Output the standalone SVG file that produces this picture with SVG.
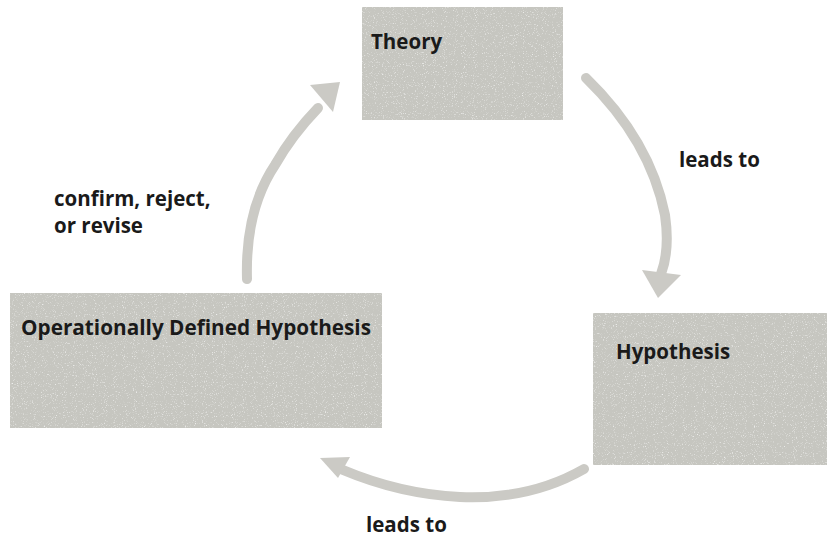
<svg xmlns="http://www.w3.org/2000/svg" width="827" height="540" viewBox="0 0 827 540">
<style>
.box{fill:#c6c6c0}
.lbl{font-family:"Open Sans","Liberation Sans",sans-serif;font-weight:700;font-size:20.5px;fill:#1a1a1a}
.arr{fill:none;stroke:#cbcac5;stroke-width:10;stroke-linecap:round}
.head{fill:#cbcac5}
</style>
<defs>
<filter id="grain" x="0" y="0" width="100%" height="100%">
<feTurbulence type="fractalNoise" baseFrequency="0.9" numOctaves="2" seed="3" result="n"/>
<feColorMatrix in="n" type="matrix" values="0 0 0 0 1  0 0 0 0 1  0 0 0 0 1  0 0 0 2.2 -1.3" result="s"/>
<feComposite in="s" in2="SourceGraphic" operator="in" result="sp"/>
<feMerge><feMergeNode in="SourceGraphic"/><feMergeNode in="sp"/></feMerge>
</filter>
</defs>
<rect width="827" height="540" fill="#ffffff"/>
<g id="theory">
<rect class="box" x="362" y="7" width="201" height="113" filter="url(#grain)"/>
<text class="lbl" x="371" y="49">Theory</text>
</g>
<g id="hypothesis">
<rect class="box" x="593" y="313" width="234" height="152" filter="url(#grain)"/>
<text class="lbl" x="616" y="359">Hypothesis</text>
</g>
<g id="opdef">
<rect class="box" x="10" y="293" width="372" height="135" filter="url(#grain)"/>
<text class="lbl" x="21" y="335" textLength="350" lengthAdjust="spacingAndGlyphs">Operationally Defined Hypothesis</text>
</g>
<g id="connectors">
<path class="arr" d="M586,78 Q650,140 665,215 Q670,250 661,274"/>
<polygon class="head" points="642,270 681,275 658,298"/>
<path class="arr" d="M584,469 Q530,500 460,497 Q400,494 343,470"/>
<polygon class="head" points="320,458 350,457 338,478"/>
<path class="arr" d="M247,279 Q245,210 275,165 Q292,135 318,108"/>
<polygon class="head" points="340,82 310,85 333,112"/>
<text class="lbl" x="679" y="167">leads to</text>
<text class="lbl" x="366" y="532">leads to</text>
<text class="lbl" x="54" y="206">confirm, reject,</text>
<text class="lbl" x="54" y="233">or revise</text>
</g>
</svg>
